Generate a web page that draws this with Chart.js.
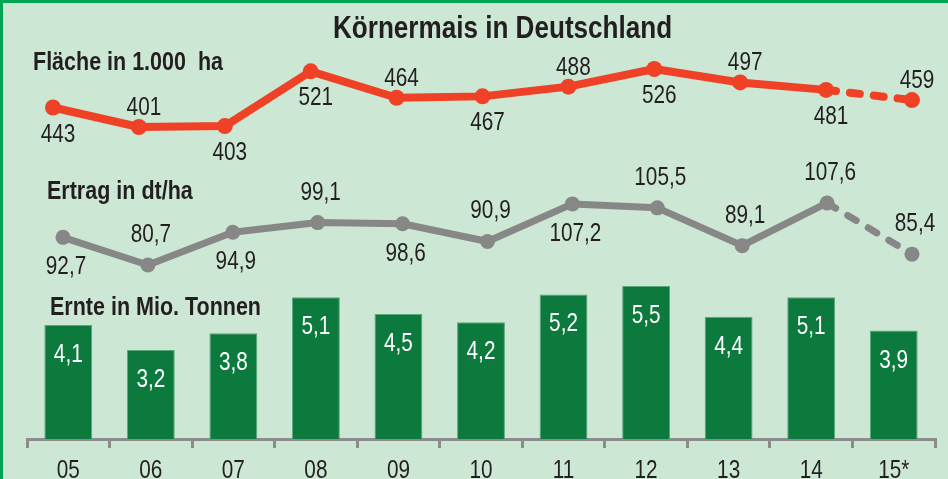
<!DOCTYPE html>
<html>
<head>
<meta charset="utf-8">
<script src="https://cdn.jsdelivr.net/npm/chart.js@4.4.1/dist/chart.umd.min.js"></script>
<style>
  html, body { margin: 0; padding: 0; }
  body { width: 948px; height: 479px; background: #cde7d5; position: relative; overflow: hidden; }
  #c { position: absolute; left: 0; top: 0; }
  .lbl { position: absolute; font-family: "Liberation Sans", Arial, sans-serif; font-weight: bold; color: #231f20; line-height: 1; white-space: pre; transform: scaleX(0.86); transform-origin: 0 0; }
  #title { left: 333px; top: 11px; font-size: 32px; transform: scaleX(0.815); }
  #l1 { left: 33px; top: 49px; font-size: 25px; }
  #l2 { left: 47px; top: 178px; font-size: 25px; }
  #l3 { left: 50px; top: 294px; font-size: 25px; }
  .bt { position: absolute; left: 0; top: 0; width: 948px; height: 3px; background: #00a651; }
  .bl { position: absolute; left: 0; top: 0; width: 3px; height: 479px; background: #00a651; }
</style>
</head>
<body>
<canvas id="c" width="948" height="479"></canvas>
<div class="lbl" id="title">Körnermais in Deutschland</div>
<div class="lbl" id="l1">Fläche in 1.000  ha</div>
<div class="lbl" id="l2">Ertrag in dt/ha</div>
<div class="lbl" id="l3">Ernte in Mio. Tonnen</div>
<div class="bt"></div>
<div class="bl"></div>
<script>
const years = ['05', '06', '07', '08', '09', '10', '11', '12', '13', '14', '15*'];
const flaeche = [443, 401, 403, 521, 464, 467, 488, 526, 497, 481, 459];
const ertrag = [92.7, 80.7, 94.9, 99.1, 98.6, 90.9, 107.2, 105.5, 89.1, 107.6, 85.4];
const ernte = [4.1, 3.2, 3.8, 5.1, 4.5, 4.2, 5.2, 5.5, 4.4, 5.1, 3.9];
const flaechePlace = ['below', 'above', 'below', 'below', 'above', 'below', 'above', 'below', 'above', 'below', 'above'];
const ertragPlace = ['below', 'above', 'below', 'above', 'below', 'above', 'below', 'above', 'above', 'above', 'above'];

const RED = '#ee4126';
const GRAY = '#878787';
const GREEN = '#0c7a3d';
const TEXT = '#231f20';
const AXIS = '#8c8c8c';
const FONT = '"Liberation Sans", Arial, sans-serif';

// condensed look: draw canvas text horizontally compressed (like Arial Narrow)
const canvas = document.getElementById('c');
const c2d = canvas.getContext('2d');
const NARROW = 0.83;
c2d.fillText = function (text, x, y, maxWidth) {
  this.save();
  this.translate(x, y);
  this.scale(NARROW, 1);
  CanvasRenderingContext2D.prototype.fillText.call(this, text, 0, 0);
  this.restore();
};

const fmt1 = v => v.toFixed(1).replace('.', ',');
const dashed = ctx => years[ctx.p1DataIndex].includes('*') ? [10, 14] : undefined;

const labelPlugin = {
  id: 'valueLabels',
  afterDatasetsDraw(chart) {
    const ctx = chart.ctx;
    ctx.save();
    ctx.font = '25px ' + FONT;
    ctx.textAlign = 'center';
    ctx.textBaseline = 'alphabetic';
    chart.data.datasets.forEach((ds, di) => {
      const meta = chart.getDatasetMeta(di);
      meta.data.forEach((el, i) => {
        const v = ds.rawValues[i];
        if (ds.kind === 'bar') {
          ctx.fillStyle = '#ffffff';
          ctx.fillText(fmt1(v), el.x, el.y + 37);
        } else if (ds.kind === 'flaeche') {
          ctx.fillStyle = TEXT;
          const y = flaechePlace[i] === 'above' ? el.y - 12 : el.y + 34;
          ctx.fillText(String(v), el.x + 5, y);
        } else {
          ctx.fillStyle = TEXT;
          const y = ertragPlace[i] === 'above' ? el.y - 23 : el.y + 37;
          ctx.fillText(fmt1(v), el.x + 3, y);
        }
      });
    });
    ctx.restore();
  }
};

new Chart(c2d, {
  type: 'bar',
  data: {
    labels: years,
    datasets: [
      {
        type: 'line', kind: 'flaeche', rawValues: flaeche,
        data: flaeche.map((v, i) => ({ x: i, y: v })),
        xAxisID: 'xr', yAxisID: 'yr', order: 1,
        borderColor: RED, backgroundColor: RED, borderWidth: 8,
        pointRadius: 8, pointBackgroundColor: RED, pointBorderWidth: 0,
        borderCapStyle: 'round', borderJoinStyle: 'round',
        segment: { borderDash: dashed }, tension: 0
      },
      {
        type: 'line', kind: 'ertrag', rawValues: ertrag,
        data: ertrag.map((v, i) => ({ x: i, y: v })),
        xAxisID: 'xg', yAxisID: 'yg', order: 2,
        borderColor: GRAY, backgroundColor: GRAY, borderWidth: 7,
        pointRadius: 7.5, pointBackgroundColor: GRAY, pointBorderWidth: 0,
        borderCapStyle: 'round', borderJoinStyle: 'round',
        segment: { borderDash: dashed }, tension: 0
      },
      {
        type: 'bar', kind: 'bar', rawValues: ernte,
        data: ernte,
        xAxisID: 'x', yAxisID: 'yb', order: 3,
        backgroundColor: GREEN, borderColor: '#5aa878', borderWidth: 1,
        grouped: false, categoryPercentage: 1, barPercentage: 0.58
      }
    ]
  },
  options: {
    responsive: false,
    animation: false,
    devicePixelRatio: 1,
    layout: { autoPadding: false, padding: { left: 27, right: 13, top: 0, bottom: 0 } },
    plugins: { legend: { display: false }, title: { display: false }, tooltip: { enabled: false } },
    scales: {
      x: {
        type: 'category', offset: true,
        grid: { offset: true, drawOnChartArea: false, drawTicks: true, tickLength: 9, color: AXIS, lineWidth: 3 },
        border: { display: true, color: AXIS, width: 3 },
        ticks: { color: TEXT, font: { family: FONT, size: 25 }, padding: 8, maxRotation: 0, autoSkip: false },
        afterFit: s => { s.height = 40; }
      },
      xr: { type: 'linear', display: false, offset: false, grid: { offset: false }, min: -0.3027, max: 10.268 },
      xg: { type: 'linear', display: false, offset: false, grid: { offset: false }, min: -0.424, max: 10.271 },
      y: { display: false },
      yr: { type: 'linear', display: false, min: -271.4, max: 674.7 },
      yg: { type: 'linear', display: false, min: 5.21, max: 195.67 },
      yb: { type: 'linear', display: false, min: 0, max: 15.79 }
    }
  },
  plugins: [labelPlugin]
});
</script>
</body>
</html>
